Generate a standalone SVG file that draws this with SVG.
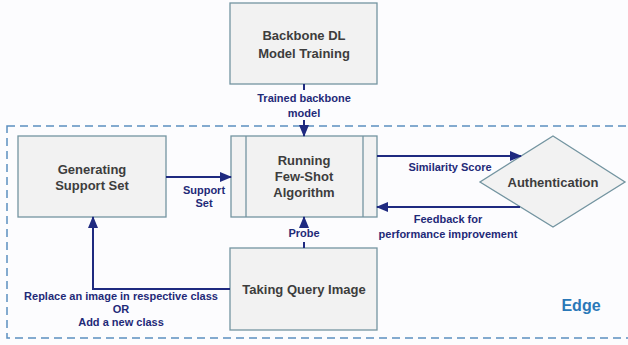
<svg xmlns="http://www.w3.org/2000/svg" width="628" height="345" viewBox="0 0 628 345">
<style>
.node{fill:#f2f2f2;stroke:#7394a0;stroke-width:1.3}
.nt{font-family:"Liberation Sans",Arial,sans-serif;font-size:13px;font-weight:bold;fill:#3d3d3d;text-anchor:middle;dominant-baseline:central}
.lb{font-family:"Liberation Sans",Arial,sans-serif;font-size:11px;font-weight:bold;fill:#1f2a78;text-anchor:middle;dominant-baseline:central}
.ln{fill:none;stroke:#1f2a80;stroke-width:2}
</style>
<defs>
<marker id="ah" markerUnits="userSpaceOnUse" markerWidth="12" markerHeight="10" refX="11" refY="5" orient="auto">
<path d="M0,0 L12,5 L0,10 Z" fill="#1f2a80"/>
</marker>
</defs>
<rect width="628" height="345" fill="#fcfcfe"/>
<g id="edge-region">
<rect x="7" y="126" width="630" height="212" fill="none" stroke="#5b8fc0" stroke-width="1.5" stroke-dasharray="8 5"/>
<text x="581" y="305" font-family="Liberation Sans,Arial,sans-serif" font-size="16" font-weight="bold" fill="#2a78b8" text-anchor="middle" dominant-baseline="central">Edge</text>
</g>
<g id="backbone">
<rect class="node" x="230" y="3" width="147" height="81"/>
<text class="nt" x="304" y="35">Backbone DL</text>
<text class="nt" x="304" y="53">Model Training</text>
</g>
<g id="generating">
<rect class="node" x="18" y="136" width="148" height="81"/>
<text class="nt" x="92" y="169">Generating</text>
<text class="nt" x="92" y="185">Support Set</text>
</g>
<g id="running">
<rect class="node" x="231" y="136" width="146" height="81"/>
<line x1="246" y1="136" x2="246" y2="217" stroke="#7394a0" stroke-width="1.3"/>
<line x1="363" y1="136" x2="363" y2="217" stroke="#7394a0" stroke-width="1.3"/>
<text class="nt" x="304" y="160">Running</text>
<text class="nt" x="304" y="176">Few-Shot</text>
<text class="nt" x="304" y="192">Algorithm</text>
</g>
<g id="authentication">
<polygon class="node" points="553,136 625,182 553,227 480,182"/>
<text class="nt" x="553" y="182">Authentication</text>
</g>
<g id="query">
<rect class="node" x="230" y="248" width="147" height="82"/>
<text class="nt" x="304" y="289">Taking Query Image</text>
</g>
<g id="connectors">
<line class="ln" x1="304" y1="84" x2="304" y2="90"/>
<line class="ln" x1="304" y1="120" x2="304" y2="136" marker-end="url(#ah)"/>
<text class="lb" x="304" y="98">Trained backbone</text>
<text class="lb" x="304" y="113">model</text>
<line class="ln" x1="166" y1="177" x2="231" y2="177" marker-end="url(#ah)"/>
<text class="lb" x="204" y="190">Support</text>
<text class="lb" x="204" y="203">Set</text>
<line class="ln" x1="377" y1="156" x2="521" y2="156" marker-end="url(#ah)"/>
<text class="lb" x="450" y="167">Similarity Score</text>
<line class="ln" x1="520" y1="207" x2="377" y2="207" marker-end="url(#ah)"/>
<text class="lb" x="448" y="219">Feedback for</text>
<text class="lb" x="448" y="234">performance improvement</text>
<line class="ln" x1="304" y1="248" x2="304" y2="242"/>
<line class="ln" x1="304" y1="226" x2="304" y2="217" marker-end="url(#ah)"/>
<text class="lb" x="304" y="233">Probe</text>
<path class="ln" d="M230,289 H93 V217" marker-end="url(#ah)"/>
<text class="lb" x="121" y="296">Replace an image in respective class</text>
<text class="lb" x="121" y="309">OR</text>
<text class="lb" x="121" y="322">Add a new class</text>
</g>
</svg>
